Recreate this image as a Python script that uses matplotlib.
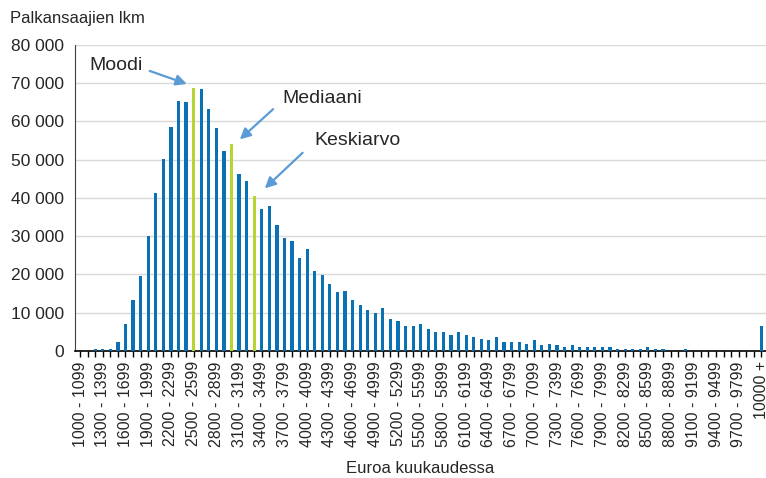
import numpy as np
import matplotlib.pyplot as plt

plt.rcParams['font.family'] = ['Liberation Sans', 'DejaVu Sans']

# Palkansaajien lukumäärä 100 euron luokittain
lower = list(range(1000, 10000, 100))
categories = ["%d - %d" % (a, a + 99) for a in lower] + ["10000 +"]
values = [0, 0, 500, 500, 600, 2300, 7000, 13300, 19600, 30000,
          41200, 50200, 58600, 65400, 65000, 68800, 68400, 63300, 58200, 52300,
          54000, 46300, 44300, 40500, 37200, 38000, 33000, 29600, 28800, 24200,
          26700, 20900, 19900, 17500, 15400, 15700, 13200, 12000, 10700, 9900,
          11200, 8200, 7800, 6600, 6600, 7000, 5650, 4900, 4900, 4100,
          4900, 4100, 3650, 3200, 2800, 3650, 2300, 2300, 2400, 1900,
          2800, 1500, 1900, 1500, 1000, 1500, 1000, 1000, 1000, 1000,
          1000, 600, 600, 600, 500, 900, 450, 450, 0, 0,
          450, 0, 0, 0, 0, 0, 0, 0, 0, 0,
          6600]
highlight = ["2500 - 2599", "3000 - 3099", "3300 - 3399"]  # moodi, mediaani, keskiarvo

blue = "#0a72b4"
green = "#b7d432"
arrow_col = "#5b9bd5"
txt = "#262626"

fig = plt.figure(figsize=(7.66, 4.78), dpi=100)
ax = fig.add_axes([0.098, 0.266, 0.902, 0.64])

x = np.arange(len(categories))
colors = [green if c in highlight else blue for c in categories]
ax.bar(x, values, width=0.42, color=colors, zorder=3)

ax.set_ylim(0, 80000)
ax.set_xlim(-0.66, 90.6)
ax.set_yticks(range(0, 80001, 10000))
ax.set_yticklabels([("%d" % v if v < 1000 else "%d %03d" % (v // 1000, v % 1000)) for v in range(0, 80001, 10000)],
                   fontsize=12.5, color=txt)
ax.tick_params(axis='y', length=0, pad=8)
ax.set_xticks(x, minor=True)
ax.set_xticks(x[::3])
ax.set_xticklabels(categories[::3], rotation=90, fontsize=11.5, color=txt)
ax.tick_params(axis='x', which='both', length=4, width=1, color='black', direction='out')
ax.grid(axis='y', color='#d9d9d9', linewidth=1, zorder=0)

for s in ['top', 'right']:
    ax.spines[s].set_visible(False)
ax.spines['left'].set_color('#404040')
ax.spines['bottom'].set_color('black')
ax.spines['bottom'].set_linewidth(1.2)

fig.text(10 / 766, 1 - 18 / 478, "Palkansaajien lkm", fontsize=12, color=txt, va='center', ha='left')
ax.set_xlabel("Euroa kuukaudessa", fontsize=12, color=txt, labelpad=10)

arr = dict(arrowstyle='-|>', color=arrow_col, lw=1.6, mutation_scale=16, shrinkA=0, shrinkB=0)
ax.text(4.8, 74600, "Moodi", fontsize=14, color=txt, ha='center', va='center')
ax.annotate('', xy=(14.1, 69800), xytext=(9.2, 73200), arrowprops=arr)
ax.text(32.0, 66000, "Mediaani", fontsize=14, color=txt, ha='center', va='center')
ax.annotate('', xy=(21.1, 55300), xytext=(25.5, 63200), arrowprops=arr)
ax.text(36.7, 55000, "Keskiarvo", fontsize=14, color=txt, ha='center', va='center')
ax.annotate('', xy=(24.4, 42500), xytext=(29.4, 51800), arrowprops=arr)

fig.savefig("out.png", dpi=100)
